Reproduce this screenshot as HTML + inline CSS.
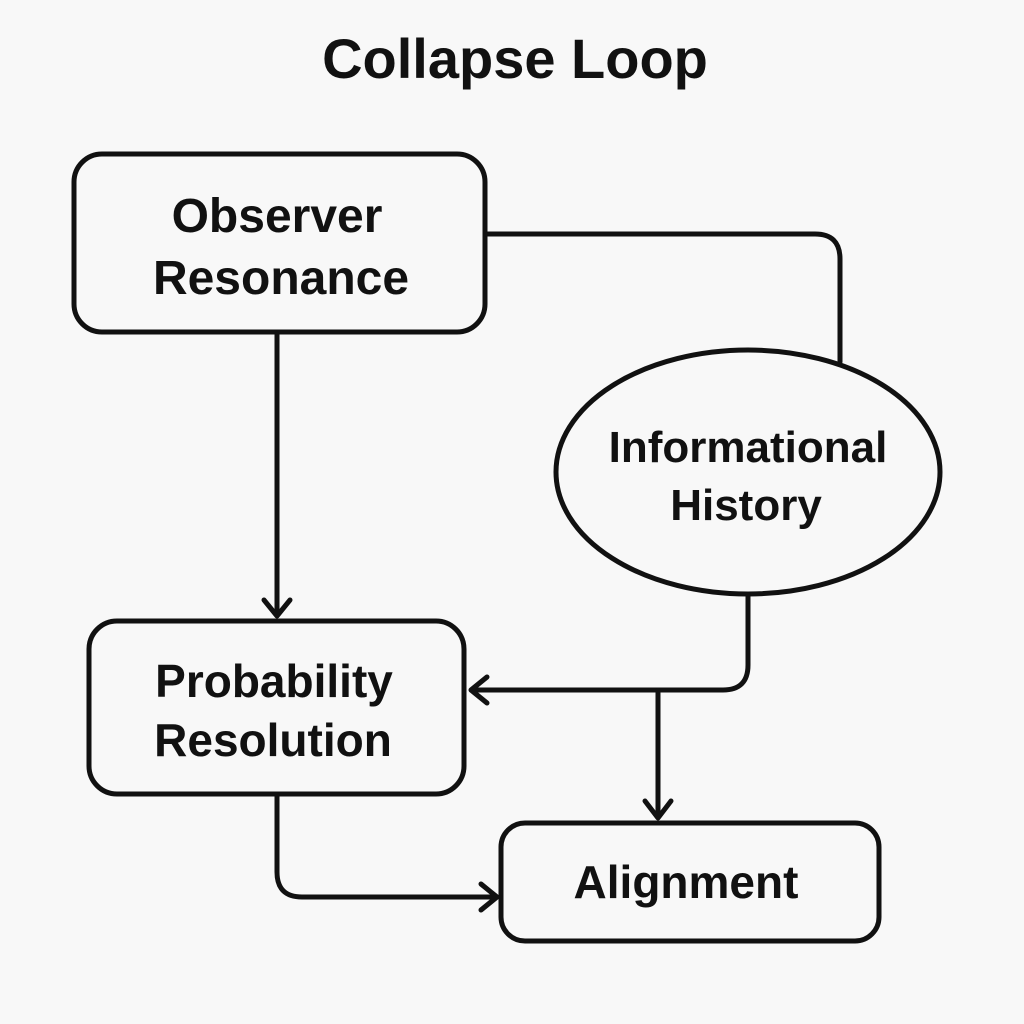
<!DOCTYPE html>
<html><head><meta charset="utf-8"><style>
html,body{margin:0;padding:0;background:#f8f8f8;}
svg{display:block;}
text{font-family:"Liberation Sans",Arial,sans-serif;font-weight:bold;fill:#111;text-anchor:middle;}
</style></head><body>
<svg width="1024" height="1024" viewBox="0 0 1024 1024" xmlns="http://www.w3.org/2000/svg">
<rect width="1024" height="1024" fill="#f8f8f8"/>
<text x="515" y="78" font-size="56">Collapse Loop</text>
<g fill="none" stroke="#111" stroke-width="5" stroke-linejoin="round" stroke-linecap="round">
<rect x="74" y="154" width="411" height="178" rx="28"/>
<rect x="89" y="621" width="375" height="173" rx="28"/>
<rect x="501" y="823" width="378" height="118" rx="24"/>
<ellipse cx="748" cy="472" rx="192" ry="122"/>
<path d="M486 234 H815 Q840 234 840 259 V362"/>
<path d="M277 334 V612"/>
<path d="M748 595 V665 Q748 690 723 690 H475"/>
<path d="M658 690 V815"/>
<path d="M277 795 V872 Q277 897 302 897 H492"/>
<path d="M264 600 L277 616 L290 600"/>
<path d="M487 677 L471 690 L487 703"/>
<path d="M645 801 L658 818 L671 801"/>
<path d="M481 884 L497 897 L481 910"/>
</g>
<text x="277" y="232" font-size="48">Observer</text>
<text x="281" y="294" font-size="48">Resonance</text>
<text x="748" y="462" font-size="44">Informational</text>
<text x="746" y="520" font-size="44">History</text>
<text x="274" y="697" font-size="46">Probability</text>
<text x="273" y="756" font-size="46">Resolution</text>
<text x="686" y="898" font-size="46">Alignment</text>
</svg>
</body></html>
